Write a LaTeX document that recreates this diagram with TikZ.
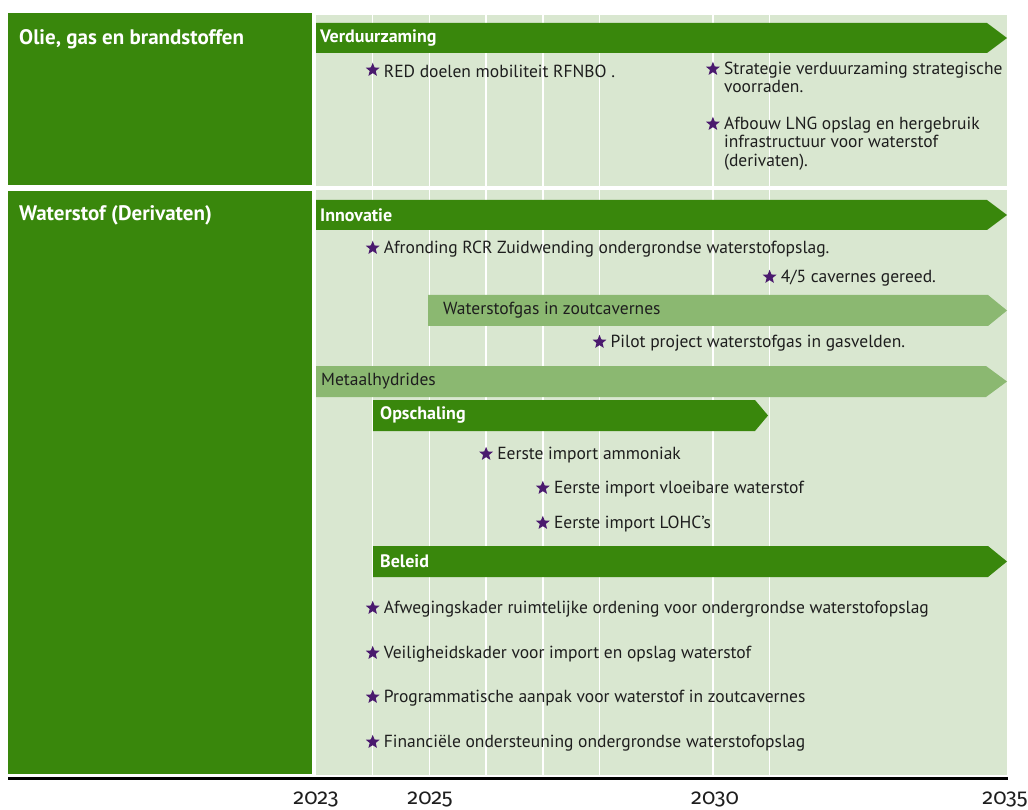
\documentclass[tikz,border=0pt]{standalone}
\usepackage{fontspec}
\setmainfont{PT Sans}
\newfontfamily\yearfont[Numbers=OldStyle]{Fira Sans}
\usetikzlibrary{shapes.geometric}
\definecolor{donkergroen}{HTML}{39870C}
\definecolor{lichtgroen}{HTML}{8BB871}
\definecolor{achtergrond}{HTML}{D9E7D0}
\definecolor{paars}{HTML}{4A1A6E}
\definecolor{tekst}{HTML}{1E1E1E}
\tikzset{
  mijlpaal/.style={star, star points=5, star point ratio=2.3, fill=paars, inner sep=0pt, minimum size=14.5pt},
  item/.style={inner sep=0pt, yshift=-1.5pt, text=tekst, font=\fontsize{17.5}{18.5}\selectfont, align=left},
  balklabel/.style={anchor=west, inner sep=0pt, text=white, font=\bfseries\fontsize{18}{20}\selectfont},
  sectielabel/.style={anchor=west, inner sep=0pt, yshift=-2pt, text=white, font=\bfseries\fontsize{21}{24}\selectfont},
  jaar/.style={inner sep=0pt, text=tekst, font=\yearfont\fontsize{22}{24}\selectfont}
}
\newcommand{\tijdbalk}[6]{%
  \fill[#6] (#1,#3) -- ({#2-#5},#3) -- (#2,{(#3+#4)/2}) -- ({#2-#5},#4) -- (#1,#4) -- cycle;}
\begin{document}
\begin{tikzpicture}[x=1pt, y=-1pt]
    \pgfmathsetmacro{\xo}{316};
    \pgfmathsetmacro{\yw}{56.7};
    \useasboundingbox (0,0) rectangle (1028,810);
    \fill[donkergroen] (8,13) rectangle (312,185);
    \fill[donkergroen] (8,191) rectangle (312,774);
    \fill[achtergrond] (316,15) rectangle (1007,186);
    \fill[achtergrond] (316,190) rectangle (1007,775);
    \foreach \j in {1,2,3,4,5,7,8}:
        \draw [white, line width=1.5pt] ({\xo+\yw*\j},15) -- ({\xo+\yw*\j},186)
            ({\xo+\yw*\j},190) -- ({\xo+\yw*\j},775);
    \draw [black, line width=3pt] (8,778) -- (1008,778);
    \node [sectielabel] (olie) at (19,37) {Olie, gas en brandstoffen};
    \node [sectielabel] (waterstof) at (19,213) {Waterstof (Derivaten)};
    % balken
    \tijdbalk{316}{1007}{23}{53}{20}{donkergroen}
    \node [balklabel] (verduurzaming) at (320,38) {Verduurzaming};
    \tijdbalk{316}{1007}{200}{230}{20}{donkergroen}
    \node [balklabel] (innovatie) at (320,215) {Innovatie};
    \tijdbalk{428}{1007}{295}{326}{19}{lichtgroen}
    \node [balklabel, text=tekst, font=\fontsize{17.5}{18.5}\selectfont] (zoutcavernes) at (443,310) {Waterstofgas in zoutcavernes};
    \tijdbalk{316}{1007}{366}{397}{21}{lichtgroen}
    \node [balklabel, text=tekst, font=\fontsize{17.5}{18.5}\selectfont] (metaalhydrides) at (321,381) {Metaalhydrides};
    \tijdbalk{373}{768}{400}{431}{13}{donkergroen}
    \node [balklabel] (opschaling) at (380,415) {Opschaling};
    \tijdbalk{373}{1007}{546}{577}{19}{donkergroen}
    \node [balklabel] (beleid) at (380,561) {Beleid};
    % mijlpalen
    \node [mijlpaal] (m1) at ({\xo+\yw*1},70) {};
    \node [item, anchor=west] (t1) at ({\xo+\yw*1+11},70) {RED doelen mobiliteit RFNBO .};
    \node [mijlpaal] (m2) at ({\xo+\yw*7},69) {};
    \node [item, anchor=north west] (t2) at ({\xo+\yw*7+11},60) {Strategie verduurzaming strategische\\voorraden.};
    \node [mijlpaal] (m3) at ({\xo+\yw*7},124) {};
    \node [item, anchor=north west] (t3) at ({\xo+\yw*7+11},115) {Afbouw LNG opslag en hergebruik\\infrastructuur voor waterstof\\(derivaten).};
    \node [mijlpaal] (m4) at ({\xo+\yw*1},248) {};
    \node [item, anchor=west] (t4) at ({\xo+\yw*1+11},248) {Afronding RCR Zuidwending ondergrondse waterstofopslag.};
    \node [mijlpaal] (m5) at ({\xo+\yw*8},277) {};
    \node [item, anchor=west] (t5) at ({\xo+\yw*8+11},277) {4/5 cavernes gereed.};
    \node [mijlpaal] (m6) at ({\xo+\yw*5},342) {};
    \node [item, anchor=west] (t6) at ({\xo+\yw*5+11},342) {Pilot project waterstofgas in gasvelden.};
    \node [mijlpaal] (m7) at ({\xo+\yw*3},454) {};
    \node [item, anchor=west] (t7) at ({\xo+\yw*3+11},454) {Eerste import ammoniak};
    \node [mijlpaal] (m8) at ({\xo+\yw*4},488) {};
    \node [item, anchor=west] (t8) at ({\xo+\yw*4+11},488) {Eerste import vloeibare waterstof};
    \node [mijlpaal] (m9) at ({\xo+\yw*4},523) {};
    \node [item, anchor=west] (t9) at ({\xo+\yw*4+11},523) {Eerste import LOHC’s};
    \node [mijlpaal] (m10) at ({\xo+\yw*1},608) {};
    \node [item, anchor=west] (t10) at ({\xo+\yw*1+11},608) {Afwegingskader ruimtelijke ordening voor ondergrondse waterstofopslag};
    \node [mijlpaal] (m11) at ({\xo+\yw*1},653) {};
    \node [item, anchor=west] (t11) at ({\xo+\yw*1+11},653) {Veiligheidskader voor import en opslag waterstof};
    \node [mijlpaal] (m12) at ({\xo+\yw*1},697) {};
    \node [item, anchor=west] (t12) at ({\xo+\yw*1+11},697) {Programmatische aanpak voor waterstof in zoutcavernes};
    \node [mijlpaal] (m13) at ({\xo+\yw*1},742) {};
    \node [item, anchor=west] (t13) at ({\xo+\yw*1+11},742) {Financiële ondersteuning ondergrondse waterstofopslag};
    % jaren
    \node [jaar] (j2023) at (316,799) {2023};
    \node [jaar] (j2025) at (430,799) {2025};
    \node [jaar] (j2030) at (715,799) {2030};
    \node [jaar] (j2035) at (1005,799) {2035};
\end{tikzpicture}
\end{document}
